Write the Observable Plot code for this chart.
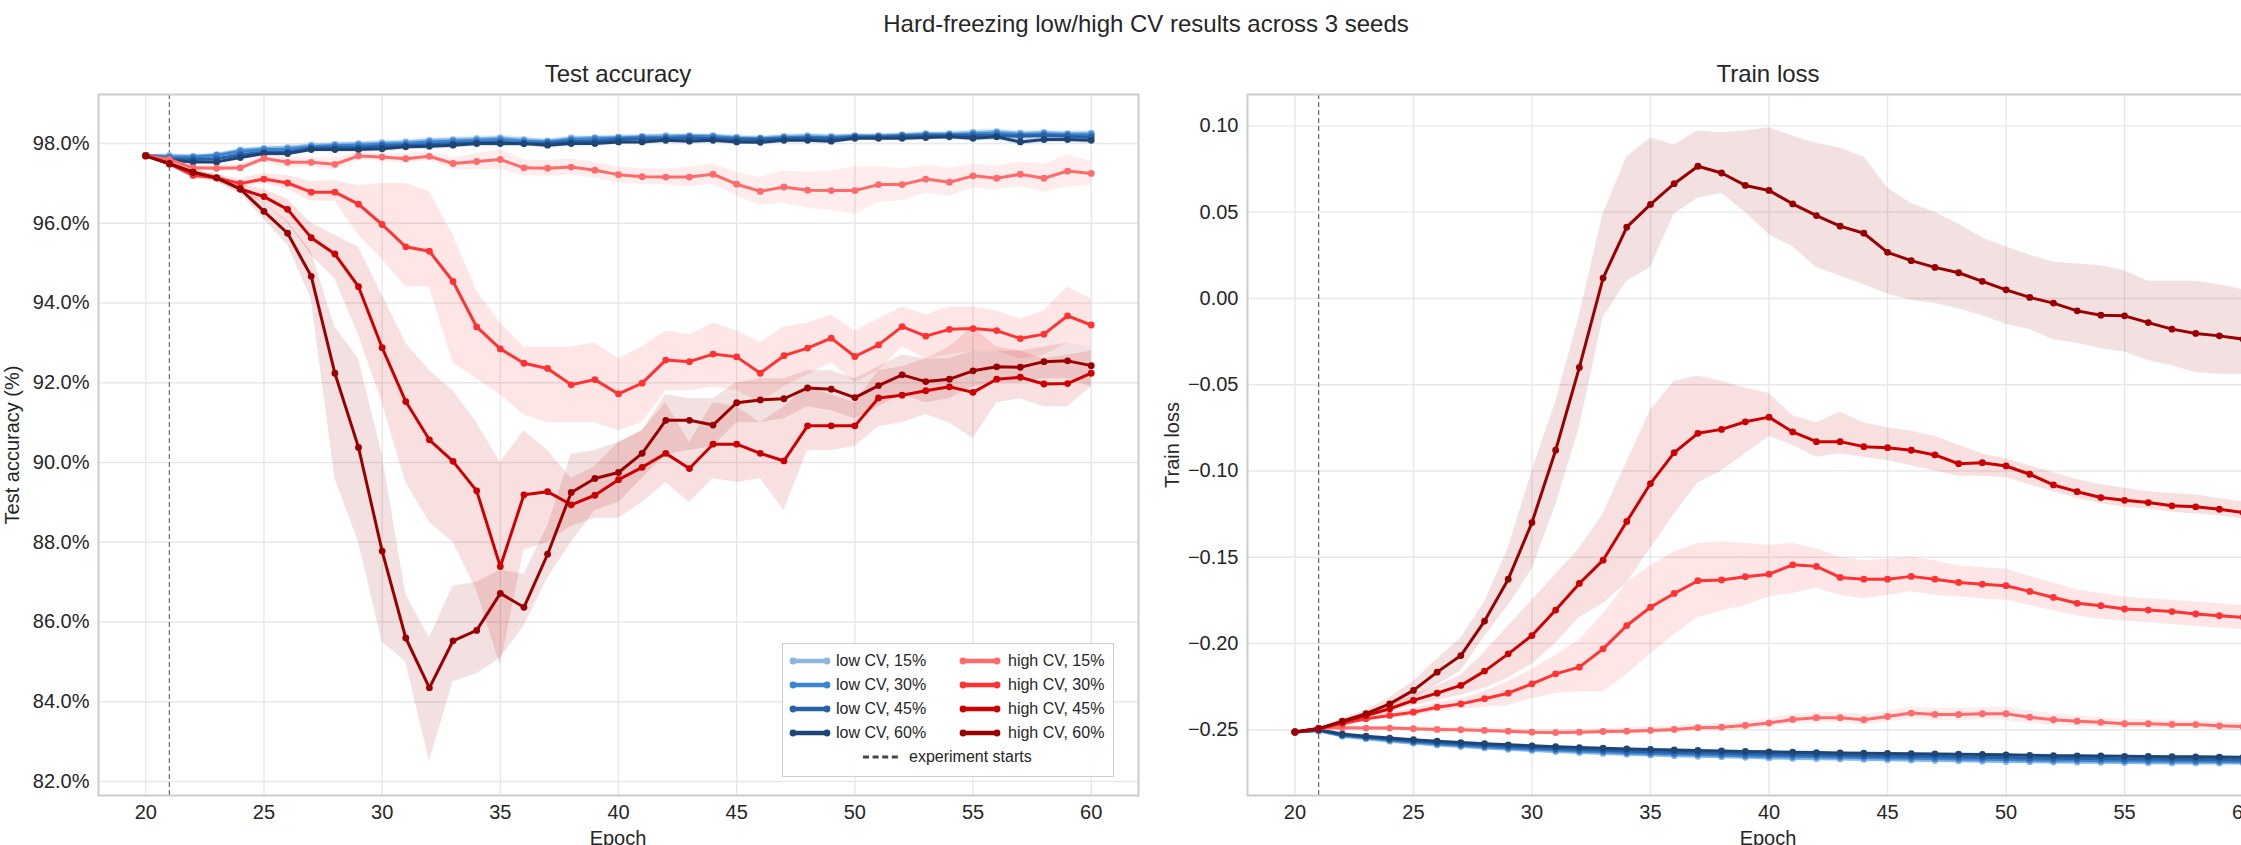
<!DOCTYPE html>
<html>
<head>
<meta charset="utf-8">
<script src="https://cdn.jsdelivr.net/npm/d3@7"></script>
<script src="https://cdn.jsdelivr.net/npm/@observablehq/plot@0.6"></script>
<style>
  html, body { margin: 0; padding: 0; background: #fff; }
  body { width: 2241px; height: 845px; overflow: hidden; position: relative;
         font-family: "Liberation Sans", Arial, Helvetica, sans-serif; color: #262626; }
  .txt { position: absolute; white-space: nowrap; }
</style>
</head>
<body>
<script>
// ---------------- DATA ----------------
const epochs = [20,21,22,23,24,25,26,27,28,29,30,31,32,33,34,35,36,37,38,39,40,41,42,43,44,45,46,47,48,49,50,51,52,53,54,55,56,57,58,59,60];
const xTicks = [20,25,30,35,40,45,50,55,60];
const accTicks = [82,84,86,88,90,92,94,96,98];
const lossTicks = [-0.25,-0.20,-0.15,-0.10,-0.05,0.00,0.05,0.10];

const seriesLabels = ["low CV, 15%","low CV, 30%","low CV, 45%","low CV, 60%","high CV, 15%","high CV, 30%","high CV, 45%","high CV, 60%"];
const seriesColors = ["#8ab6e2","#3a84d4","#2862a6","#1d4677","#ff6b6b","#ff3333","#cc0000","#990000"];

// Test accuracy (%)
const accLow15 = [97.70,97.70,97.68,97.72,97.84,97.88,97.90,97.96,97.98,98.00,98.02,98.04,98.08,98.10,98.12,98.14,98.10,98.06,98.14,98.15,98.16,98.18,98.20,98.20,98.20,98.16,98.14,98.18,98.20,98.18,98.20,98.20,98.22,98.25,98.25,98.28,98.30,98.26,98.28,98.25,98.26];
const accLow30 = [97.70,97.66,97.66,97.70,97.80,97.85,97.86,97.92,97.95,97.96,97.98,98.00,98.04,98.06,98.08,98.10,98.06,98.04,98.10,98.12,98.14,98.16,98.16,98.18,98.17,98.13,98.12,98.15,98.16,98.15,98.18,98.18,98.20,98.22,98.22,98.24,98.26,98.22,98.24,98.22,98.22];
const accLow45 = [97.70,97.62,97.60,97.62,97.72,97.78,97.78,97.88,97.90,97.90,97.94,97.95,97.97,98.00,98.02,98.03,98.00,98.00,98.05,98.06,98.10,98.12,98.12,98.14,98.12,98.10,98.10,98.12,98.14,98.12,98.16,98.16,98.18,98.20,98.20,98.20,98.20,98.18,98.20,98.18,98.16];
const accLow60 = [97.70,97.58,97.54,97.54,97.65,97.75,97.75,97.85,97.85,97.85,97.87,97.92,97.93,97.96,98.00,98.00,98.00,97.96,98.00,98.00,98.04,98.04,98.08,98.06,98.08,98.04,98.03,98.08,98.08,98.06,98.13,98.13,98.13,98.15,98.17,98.13,98.17,98.04,98.10,98.10,98.08];
const accLowSd = [0.02,0.04,0.05,0.05,0.05,0.06,0.06,0.06,0.06,0.06,0.07,0.07,0.07,0.07,0.07,0.08,0.07,0.07,0.06,0.06,0.06,0.06,0.06,0.06,0.06,0.06,0.06,0.06,0.06,0.06,0.06,0.06,0.06,0.06,0.06,0.07,0.08,0.07,0.07,0.07,0.08];

const accHigh15 = [97.70,97.60,97.39,97.38,97.39,97.63,97.53,97.53,97.48,97.69,97.66,97.62,97.68,97.50,97.55,97.60,97.39,97.38,97.41,97.33,97.22,97.17,97.16,97.16,97.23,96.98,96.80,96.91,96.83,96.82,96.82,96.97,96.97,97.11,97.03,97.19,97.13,97.23,97.13,97.31,97.25];
const accHigh15Sd = [0.02,0.05,0.08,0.08,0.10,0.10,0.15,0.12,0.15,0.10,0.10,0.12,0.10,0.15,0.20,0.25,0.20,0.20,0.20,0.20,0.20,0.20,0.20,0.25,0.25,0.30,0.35,0.40,0.45,0.50,0.60,0.45,0.40,0.35,0.35,0.30,0.30,0.30,0.35,0.40,0.30];

const accHigh30 = [97.70,97.49,97.20,97.14,97.00,97.11,97.01,96.78,96.78,96.48,95.97,95.41,95.30,94.54,93.40,92.85,92.49,92.36,91.95,92.08,91.72,91.99,92.57,92.53,92.72,92.65,92.24,92.68,92.87,93.12,92.66,92.95,93.41,93.17,93.34,93.36,93.31,93.11,93.22,93.68,93.45];
const accHigh30Lo = [97.67,97.44,97.12,97.05,96.90,97.00,96.85,96.55,96.55,95.70,95.10,94.40,94.40,92.50,92.10,91.70,91.20,91.00,91.00,91.00,90.80,91.00,91.80,91.80,91.90,91.80,91.50,91.90,92.20,92.50,92.00,92.30,92.90,92.60,92.70,92.80,92.80,92.60,92.70,93.00,92.90];
const accHigh30Hi = [97.73,97.54,97.28,97.22,97.12,97.25,97.20,97.05,97.07,96.95,97.00,97.00,96.80,95.70,94.30,93.50,92.90,92.90,92.90,93.00,92.60,92.90,93.30,93.20,93.50,93.30,93.00,93.40,93.50,93.70,93.30,93.60,93.90,93.70,93.90,93.90,93.80,93.60,93.80,94.40,94.10];

const accHigh45 = [97.69,97.49,97.28,97.14,96.86,96.67,96.35,95.64,95.23,94.41,92.88,91.53,90.57,90.03,89.29,87.39,89.19,89.27,88.94,89.18,89.57,89.88,90.23,89.85,90.46,90.46,90.23,90.04,90.92,90.92,90.92,91.62,91.69,91.80,91.90,91.76,92.09,92.14,91.97,91.98,92.24];
const accHigh45Lo = [97.66,97.44,97.20,97.05,96.75,96.50,96.00,95.20,94.60,93.20,91.50,89.50,88.50,88.00,86.80,84.90,87.80,88.00,88.40,88.60,88.60,89.00,89.50,89.00,89.60,89.50,89.60,88.80,90.30,90.30,90.40,90.90,91.00,91.20,91.00,90.60,91.50,91.60,91.40,91.40,91.90];
const accHigh45Hi = [97.72,97.54,97.35,97.22,96.98,96.85,96.60,96.00,95.70,95.40,94.20,93.00,92.30,91.80,91.00,90.00,90.80,90.30,89.60,89.90,90.50,90.80,91.50,90.50,91.50,91.40,91.00,91.40,91.90,91.70,91.50,92.30,92.40,92.60,92.90,93.40,92.90,92.80,92.60,92.70,92.80];

const accHigh60 = [97.69,97.50,97.28,97.14,96.86,96.30,95.75,94.67,92.24,90.38,87.78,85.60,84.35,85.53,85.79,86.72,86.37,87.70,89.25,89.60,89.75,90.23,91.06,91.06,90.94,91.50,91.57,91.60,91.87,91.84,91.63,91.93,92.20,92.03,92.09,92.30,92.40,92.39,92.53,92.55,92.43];
const accHigh60Lo = [97.66,97.45,97.20,97.05,96.75,96.10,95.45,94.10,89.60,88.00,85.50,85.00,82.50,84.50,84.70,85.10,85.90,87.10,88.00,88.80,89.00,89.60,90.20,90.30,90.40,91.00,91.00,91.10,91.40,91.30,91.10,91.40,91.70,91.50,91.60,91.90,92.00,92.00,92.10,92.10,91.90];
const accHigh60Hi = [97.72,97.55,97.35,97.22,96.98,96.50,96.05,95.30,93.40,92.60,90.20,86.70,85.60,86.90,87.00,87.30,87.20,88.40,90.20,90.30,90.50,90.80,91.70,91.60,91.60,92.00,92.10,92.10,92.30,92.30,92.10,92.40,92.70,92.60,92.60,92.80,92.80,92.80,92.90,93.00,92.90];

// Train loss
const lossLow15 = [-0.2513,-0.2506,-0.2537,-0.2552,-0.2566,-0.2578,-0.2588,-0.2597,-0.2605,-0.2613,-0.2620,-0.2626,-0.2632,-0.2637,-0.2642,-0.2646,-0.2650,-0.2654,-0.2657,-0.2660,-0.2663,-0.2666,-0.2668,-0.2670,-0.2672,-0.2674,-0.2676,-0.2678,-0.2680,-0.2682,-0.2684,-0.2686,-0.2687,-0.2688,-0.2689,-0.2690,-0.2691,-0.2692,-0.2692,-0.2693,-0.2693];
const lossLow30 = [-0.2513,-0.2504,-0.2533,-0.2547,-0.2560,-0.2571,-0.2581,-0.2590,-0.2598,-0.2605,-0.2612,-0.2618,-0.2623,-0.2628,-0.2633,-0.2637,-0.2641,-0.2644,-0.2647,-0.2650,-0.2653,-0.2655,-0.2657,-0.2659,-0.2661,-0.2663,-0.2665,-0.2667,-0.2669,-0.2671,-0.2673,-0.2675,-0.2676,-0.2677,-0.2679,-0.2680,-0.2681,-0.2682,-0.2683,-0.2684,-0.2685];
const lossLow45 = [-0.2513,-0.2502,-0.2529,-0.2542,-0.2554,-0.2565,-0.2574,-0.2583,-0.2590,-0.2597,-0.2603,-0.2609,-0.2614,-0.2619,-0.2623,-0.2627,-0.2630,-0.2633,-0.2636,-0.2639,-0.2642,-0.2644,-0.2646,-0.2648,-0.2650,-0.2652,-0.2654,-0.2655,-0.2657,-0.2659,-0.2661,-0.2663,-0.2665,-0.2666,-0.2667,-0.2669,-0.2670,-0.2671,-0.2672,-0.2673,-0.2674];
const lossLow60 = [-0.2513,-0.2500,-0.2525,-0.2537,-0.2548,-0.2558,-0.2566,-0.2574,-0.2581,-0.2587,-0.2593,-0.2598,-0.2603,-0.2607,-0.2611,-0.2614,-0.2617,-0.2620,-0.2623,-0.2626,-0.2628,-0.2630,-0.2632,-0.2634,-0.2636,-0.2637,-0.2639,-0.2640,-0.2642,-0.2643,-0.2645,-0.2648,-0.2650,-0.2651,-0.2652,-0.2654,-0.2655,-0.2656,-0.2657,-0.2658,-0.2659];
const lossLowSd = [0.0001,0.0002,0.0003,0.0003,0.0003,0.0004,0.0004,0.0004,0.0004,0.0005,0.0005,0.0005,0.0005,0.0005,0.0005,0.0005,0.0005,0.0005,0.0005,0.0005,0.0005,0.0005,0.0005,0.0005,0.0005,0.0005,0.0005,0.0005,0.0005,0.0005,0.0005,0.0005,0.0005,0.0005,0.0005,0.0005,0.0005,0.0005,0.0005,0.0005,0.0005];

const lossHigh15 = [-0.2514,-0.2490,-0.2488,-0.2490,-0.2490,-0.2494,-0.2498,-0.2500,-0.2504,-0.2508,-0.2514,-0.2516,-0.2514,-0.2510,-0.2508,-0.2504,-0.2498,-0.2488,-0.2485,-0.2475,-0.2461,-0.2440,-0.2430,-0.2430,-0.2442,-0.2423,-0.2403,-0.2411,-0.2411,-0.2407,-0.2407,-0.2427,-0.2442,-0.2450,-0.2457,-0.2465,-0.2465,-0.2469,-0.2470,-0.2477,-0.2482];
const lossHigh15Sd = [0.0003,0.0008,0.0010,0.0010,0.0012,0.0012,0.0014,0.0014,0.0015,0.0015,0.0016,0.0016,0.0016,0.0016,0.0018,0.0018,0.0020,0.0020,0.0022,0.0022,0.0025,0.0028,0.0030,0.0030,0.0030,0.0032,0.0035,0.0035,0.0035,0.0035,0.0040,0.0038,0.0035,0.0030,0.0028,0.0026,0.0025,0.0025,0.0024,0.0024,0.0024];

const lossHigh30 = [-0.2513,-0.2494,-0.2465,-0.2436,-0.2417,-0.2398,-0.2369,-0.2350,-0.2320,-0.2288,-0.2234,-0.2176,-0.2137,-0.2031,-0.1896,-0.1790,-0.1710,-0.1636,-0.1632,-0.1613,-0.1598,-0.1544,-0.1553,-0.1617,-0.1627,-0.1627,-0.1611,-0.1627,-0.1646,-0.1656,-0.1665,-0.1698,-0.1733,-0.1767,-0.1781,-0.1800,-0.1806,-0.1815,-0.1829,-0.1839,-0.1848];
const lossHigh30Lo = [-0.2516,-0.2499,-0.2475,-0.2450,-0.2435,-0.2420,-0.2395,-0.2380,-0.2370,-0.2360,-0.2320,-0.2290,-0.2280,-0.2280,-0.2180,-0.2060,-0.1950,-0.1850,-0.1810,-0.1780,-0.1730,-0.1710,-0.1680,-0.1720,-0.1740,-0.1720,-0.1700,-0.1720,-0.1730,-0.1740,-0.1750,-0.1780,-0.1810,-0.1840,-0.1860,-0.1870,-0.1880,-0.1890,-0.1900,-0.1910,-0.1920];
const lossHigh30Hi = [-0.2510,-0.2489,-0.2455,-0.2422,-0.2400,-0.2376,-0.2343,-0.2320,-0.2280,-0.2220,-0.2150,-0.2070,-0.1980,-0.1830,-0.1650,-0.1550,-0.1470,-0.1420,-0.1410,-0.1420,-0.1430,-0.1420,-0.1450,-0.1500,-0.1520,-0.1510,-0.1500,-0.1520,-0.1550,-0.1560,-0.1570,-0.1610,-0.1650,-0.1690,-0.1710,-0.1730,-0.1740,-0.1750,-0.1760,-0.1770,-0.1780];

const lossHigh45 = [-0.2513,-0.2494,-0.2456,-0.2417,-0.2378,-0.2330,-0.2288,-0.2243,-0.2160,-0.2060,-0.1954,-0.1806,-0.1652,-0.1517,-0.1293,-0.1073,-0.0894,-0.0782,-0.0759,-0.0715,-0.0688,-0.0774,-0.0830,-0.0830,-0.0859,-0.0865,-0.0880,-0.0907,-0.0958,-0.0952,-0.0971,-0.1019,-0.1081,-0.1120,-0.1154,-0.1170,-0.1183,-0.1202,-0.1208,-0.1222,-0.1241];
const lossHigh45Lo = [-0.2516,-0.2500,-0.2466,-0.2432,-0.2398,-0.2360,-0.2330,-0.2300,-0.2260,-0.2200,-0.2120,-0.2000,-0.1850,-0.1770,-0.1650,-0.1450,-0.1250,-0.1070,-0.1000,-0.0900,-0.0800,-0.0850,-0.0920,-0.0900,-0.0920,-0.0940,-0.0970,-0.1000,-0.1030,-0.1030,-0.1040,-0.1080,-0.1120,-0.1160,-0.1190,-0.1210,-0.1220,-0.1240,-0.1250,-0.1260,-0.1280];
const lossHigh45Hi = [-0.2510,-0.2488,-0.2446,-0.2402,-0.2358,-0.2300,-0.2246,-0.2186,-0.2050,-0.1900,-0.1750,-0.1600,-0.1450,-0.1250,-0.0950,-0.0650,-0.0480,-0.0450,-0.0480,-0.0520,-0.0550,-0.0680,-0.0720,-0.0660,-0.0720,-0.0750,-0.0770,-0.0800,-0.0850,-0.0900,-0.0930,-0.0970,-0.1010,-0.1050,-0.1080,-0.1100,-0.1120,-0.1130,-0.1140,-0.1160,-0.1180];

const lossHigh60 = [-0.2513,-0.2494,-0.2450,-0.2407,-0.2350,-0.2272,-0.2166,-0.2070,-0.1870,-0.1627,-0.1299,-0.0880,-0.0400,0.0118,0.0413,0.0545,0.0665,0.0766,0.0727,0.0655,0.0626,0.0548,0.0480,0.0419,0.0378,0.0267,0.0219,0.0180,0.0149,0.0099,0.0050,0.0006,-0.0027,-0.0072,-0.0097,-0.0101,-0.0140,-0.0178,-0.0203,-0.0217,-0.0236];
const lossHigh60Lo = [-0.2516,-0.2500,-0.2465,-0.2430,-0.2385,-0.2320,-0.2240,-0.2160,-0.1960,-0.1780,-0.1570,-0.1200,-0.0750,-0.0110,0.0100,0.0180,0.0490,0.0580,0.0610,0.0500,0.0370,0.0300,0.0180,0.0130,0.0080,0.0025,-0.0010,-0.0030,-0.0060,-0.0100,-0.0150,-0.0180,-0.0240,-0.0260,-0.0290,-0.0310,-0.0360,-0.0390,-0.0430,-0.0440,-0.0440];
const lossHigh60Hi = [-0.2510,-0.2488,-0.2435,-0.2385,-0.2315,-0.2220,-0.2090,-0.1970,-0.1760,-0.1450,-0.1000,-0.0600,-0.0100,0.0490,0.0820,0.0930,0.0890,0.0970,0.0960,0.0970,0.0990,0.0940,0.0900,0.0870,0.0820,0.0640,0.0550,0.0500,0.0430,0.0350,0.0300,0.0250,0.0210,0.0200,0.0190,0.0160,0.0100,0.0100,0.0100,0.0080,0.0050];

const experimentStart = 21;

// ---------------- BUILD TABLES ----------------
const rowsLoHi = (mean, lo, hi) => epochs.map((e, i) => ({epoch: e, mean: mean[i], lo: lo[i], hi: hi[i]}));
const rowsSd = (mean, sd) => epochs.map((e, i) => ({epoch: e, mean: mean[i], lo: mean[i] - sd[i], hi: mean[i] + sd[i]}));

const accData = [
  rowsSd(accLow15, accLowSd), rowsSd(accLow30, accLowSd), rowsSd(accLow45, accLowSd), rowsSd(accLow60, accLowSd),
  rowsSd(accHigh15, accHigh15Sd), rowsLoHi(accHigh30, accHigh30Lo, accHigh30Hi),
  rowsLoHi(accHigh45, accHigh45Lo, accHigh45Hi), rowsLoHi(accHigh60, accHigh60Lo, accHigh60Hi)
];
const lossData = [
  rowsSd(lossLow15, lossLowSd), rowsSd(lossLow30, lossLowSd), rowsSd(lossLow45, lossLowSd), rowsSd(lossLow60, lossLowSd),
  rowsSd(lossHigh15, lossHigh15Sd), rowsLoHi(lossHigh30, lossHigh30Lo, lossHigh30Hi),
  rowsLoHi(lossHigh45, lossHigh45Lo, lossHigh45Hi), rowsLoHi(lossHigh60, lossHigh60Lo, lossHigh60Hi)
];

// ---------------- DRAW ----------------
const FONT = '"Liberation Sans", Arial, Helvetica, sans-serif';

function panel(datasets, opts) {
  const marks = [
    Plot.gridX(xTicks, {stroke: "#e8e8e8", strokeOpacity: 1, strokeWidth: 1.4}),
    Plot.gridY(opts.yTicks, {stroke: "#e8e8e8", strokeOpacity: 1, strokeWidth: 1.4}),
  ];
  datasets.forEach((d, i) => {
    marks.push(Plot.areaY(d, {x: "epoch", y1: "lo", y2: "hi", fill: seriesColors[i], fillOpacity: i < 4 ? 0.18 : 0.12, curve: "linear"}));
  });
  marks.push(Plot.ruleX([experimentStart], {stroke: "#666", strokeWidth: 1.2, strokeDasharray: "5,3"}));
  datasets.forEach((d, i) => {
    marks.push(Plot.line(d, {x: "epoch", y: "mean", stroke: seriesColors[i], strokeWidth: 3}));
    marks.push(Plot.dot(d, {x: "epoch", y: "mean", fill: seriesColors[i], r: 3.4, stroke: "none"}));
  });
  marks.push(Plot.frame({stroke: "#cccccc", strokeWidth: 2}));
  const svg = Plot.plot({
    width: opts.width, height: 845,
    marginLeft: opts.marginLeft, marginRight: opts.marginRight, marginTop: 94, marginBottom: 50,
    style: {fontFamily: FONT, fontSize: "20px", color: "#262626", background: "transparent", overflow: "visible", maxWidth: "none"},
    x: {domain: [18, 62], ticks: xTicks, tickSize: 0, tickPadding: 9, label: null, tickFormat: d => String(d)},
    y: {domain: opts.yDomain, ticks: opts.yTicks, tickSize: 0, tickPadding: 9, label: null, tickFormat: opts.yFormat},
    marks
  });
  svg.style.position = "absolute";
  svg.style.left = opts.left + "px";
  svg.style.top = "0px";
  svg.style.maxWidth = "none";
  document.body.appendChild(svg);
}

panel(accData, {left: 0, width: 1160, marginLeft: 98, marginRight: 22,
  yDomain: [81.65, 99.23], yTicks: accTicks, yFormat: d => d.toFixed(1) + "%"});
panel(lossData, {left: 1150, width: 1150, marginLeft: 97, marginRight: 10,
  yDomain: [-0.2881, 0.1182], yTicks: lossTicks, yFormat: d3.format(".2f")});

// ---------------- TEXT ----------------
function addText(str, cx, baseline, size) {
  const d = document.createElement("div");
  d.className = "txt";
  d.textContent = str;
  Object.assign(d.style, {left: (cx - 600) + "px", width: "1200px", textAlign: "center",
    top: (baseline - 0.8465 * size) + "px", fontSize: size + "px", lineHeight: size + "px"});
  document.body.appendChild(d);
}
function addRotText(str, cx, cy, size) {
  const d = document.createElement("div");
  d.className = "txt";
  d.textContent = str;
  Object.assign(d.style, {left: (cx - 300) + "px", width: "600px", height: size + "px", textAlign: "center",
    top: (cy - size / 2) + "px", fontSize: size + "px", lineHeight: size + "px", transform: "rotate(-90deg)"});
  document.body.appendChild(d);
}
addText("Hard-freezing low/high CV results across 3 seeds", 1146, 32.5, 24);
addText("Test accuracy", 618, 82, 24);
addText("Train loss", 1768, 82, 24);
addText("Epoch", 618, 845, 20);
addText("Epoch", 1768, 845, 20);
addRotText("Test accuracy (%)", 12, 444.5, 20);
addRotText("Train loss", 1172, 444.5, 20);

// ---------------- LEGEND ----------------
const legendBox = document.createElement("div");
Object.assign(legendBox.style, {position: "absolute", left: "782px", top: "643px", width: "332px", height: "134px",
  boxSizing: "border-box", border: "1.5px solid #cfcfcf", background: "rgba(255,255,255,0.9)"});
document.body.appendChild(legendBox);

const NS = "http://www.w3.org/2000/svg";
function handle(x, yc, color, dashed) {
  const s = document.createElementNS(NS, "svg");
  s.setAttribute("width", 46); s.setAttribute("height", 12);
  s.style.position = "absolute"; s.style.left = (x - 2) + "px"; s.style.top = (yc - 6) + "px"; s.style.overflow = "visible";
  const l = document.createElementNS(NS, "line");
  l.setAttribute("x1", dashed ? 2 : 5); l.setAttribute("x2", dashed ? 37 : 39);
  l.setAttribute("y1", 6); l.setAttribute("y2", 6);
  l.setAttribute("stroke", color);
  l.setAttribute("stroke-width", dashed ? 3 : 4.5);
  if (dashed) l.setAttribute("stroke-dasharray", "6,3.6");
  else l.setAttribute("stroke-linecap", "round");
  s.appendChild(l);
  if (!dashed) {
    [5, 39].forEach(cx => {
      const c = document.createElementNS(NS, "circle");
      c.setAttribute("cx", cx); c.setAttribute("cy", 6); c.setAttribute("r", 3.4); c.setAttribute("fill", color);
      s.appendChild(c);
    });
  }
  document.body.appendChild(s);
}
function legendText(str, x, yc) {
  const d = document.createElement("div");
  d.className = "txt";
  d.textContent = str;
  Object.assign(d.style, {left: x + "px", top: (yc + 5.7 - 13.55) + "px", fontSize: "16px", lineHeight: "16px"});
  document.body.appendChild(d);
}
const rowY = [661, 685, 709, 733];
seriesLabels.forEach((lab, i) => {
  const col = i < 4 ? 0 : 1;
  const yc = rowY[i % 4];
  const hx = col === 0 ? 790 : 960;
  const tx = col === 0 ? 836 : 1008;
  handle(hx, yc, seriesColors[i], false);
  legendText(lab, tx, yc);
});
handle(863, 756.7, "#444", true);
legendText("experiment starts", 909, 756.7);
</script>
</body>
</html>
